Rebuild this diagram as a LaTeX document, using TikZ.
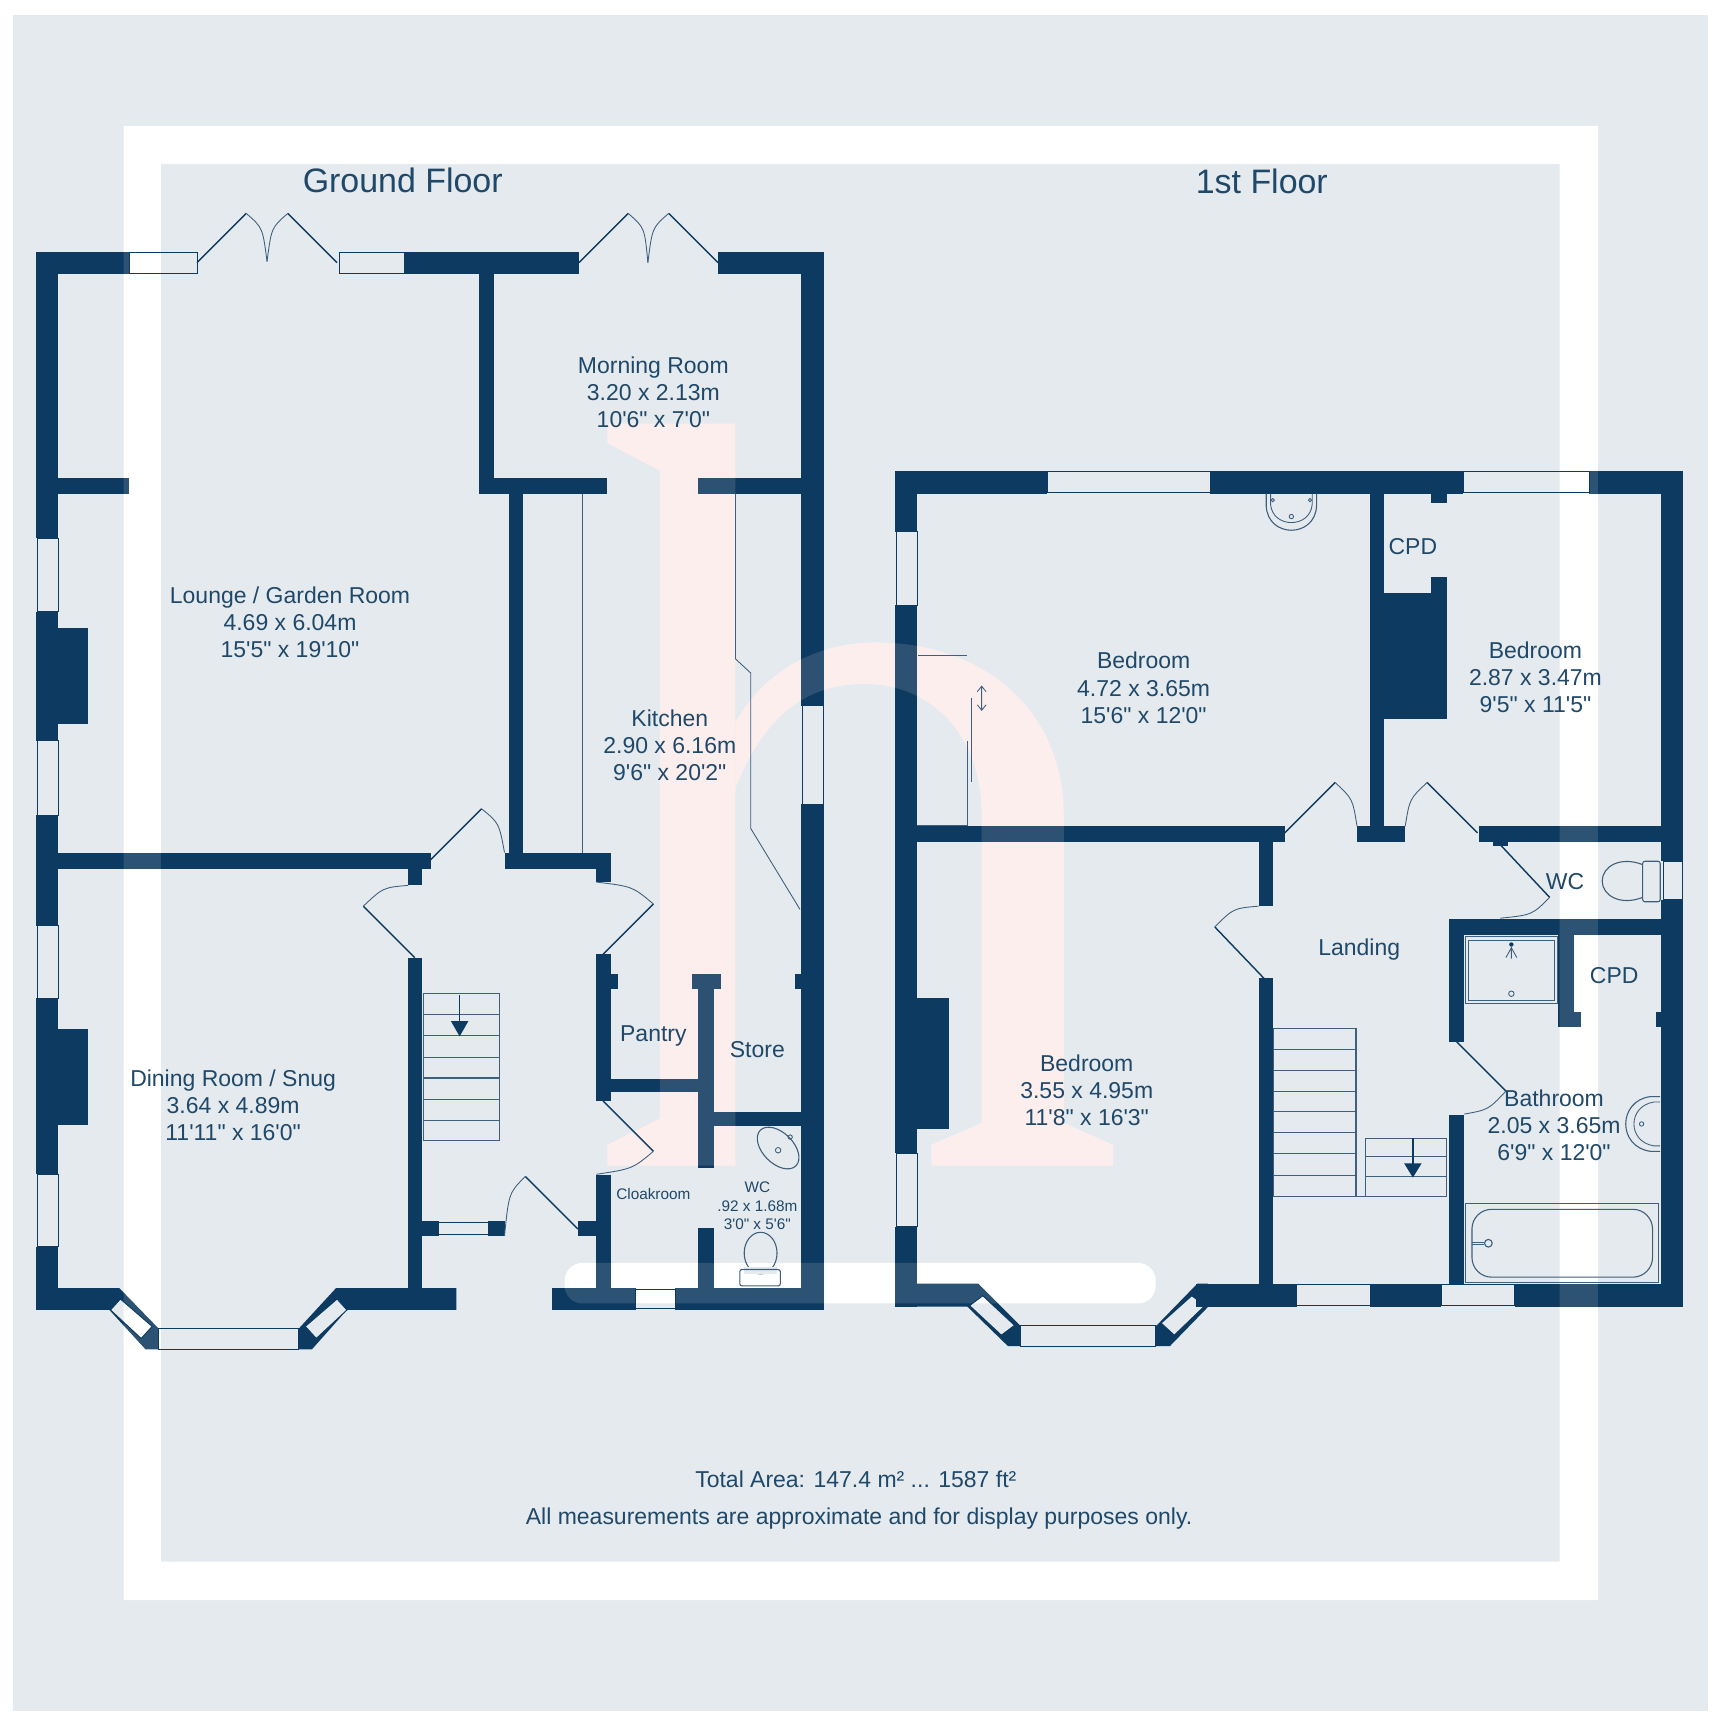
\documentclass[tikz,border=0pt]{standalone}
\usepackage{fontspec}
\usepackage{xcolor}
\usepackage{tikz}
\newfontfamily\planfont{Liberation Sans}
\definecolor{planbg}{HTML}{E4EAEE}
\definecolor{navy}{HTML}{0D3A60}
\definecolor{inkline}{HTML}{3F5F7C}
\definecolor{labelink}{HTML}{1F4869}
\definecolor{blush}{HTML}{FDEEEE}
\newcommand{\watermark}[1]{
  \fill[white,#1,even odd rule] (113,115) rectangle (1460,1462) (147,150) rectangle (1425,1427);
  \fill[white,#1,rounded corners=16pt] (516,1154) rectangle (1056,1191);
  \fill[blush,#1] (672,387) -- (555,387) -- (555,405) -- (603,430) -- (603,1022) -- (555,1046) -- (555,1065) -- (672,1065) -- cycle;
  \fill[blush,#1] (672,660) .. controls (700,610) and (750,587) .. (800,587) .. controls (900,587) and (972,650) .. (972,745)
    -- (972,1026) -- (1017,1046) -- (1017,1065) -- (851,1065) -- (851,1046) -- (897,1026) -- (897,745)
    .. controls (897,670) and (850,625) .. (790,625) .. controls (740,625) and (700,650) .. (672,720) -- cycle;
}

\begin{document}
\begin{tikzpicture}[x=1pt,y=-1pt,
  wall/.style={fill=navy},
  glazing/.style={draw=navy,line width=0.8pt},
  leaf/.style={draw=navy,line width=1.3pt},
  swing/.style={draw=inkline,line width=0.8pt},
  fitting/.style={draw=inkline,line width=1pt},
  tread/.style={draw=inkline,line width=1pt},
  label/.style={text=labelink,align=center,inner sep=0pt,font=\fontsize{21}{24.8}\selectfont\planfont},
  small/.style={label,font=\fontsize{14}{17}\selectfont\planfont},
  title/.style={label,font=\fontsize{31}{36}\selectfont\planfont}]
  \useasboundingbox (0,0) rectangle (1567,1568);
  \fill[white] (0,0) rectangle (1567,1568);
  \fill[planbg] (12,14) rectangle (1561,1563);
  \watermark{}

  % ground floor walls
  \foreach \xa/\ya/\xb/\yb in {33/230/118/250,370/230/529/250,656/230/753/250,
    33/230/53/492,33/559/53/677,33/745/53/846,33/912/53/1073,33/1139/53/1197,
    33/574/80/662,33/940/80/1028,53/437/118/451,438/250/451/451,438/437/555/451,638/437/732/451,
    465/451/478/794,53/779/394/794,373/794/386/809,461/779/558/794,545/794/558/806,
    732/230/753/645,732/735/753/1197,373/875/386/1177,545/872/558/1006,558/890/565/904,
    545/1074/558/1177,528/1116/545/1129,386/1116/401/1129,446/1116/461/1129,
    558/986/638/998,638/890/652/1067,632/890/659/904,652/1016/732/1029,726/890/732/904,
    638/1122/652/1177,504/1177/581/1197,617/1177/753/1197}
    \fill[wall] (\xa,\ya) rectangle (\xb,\yb);
  \fill[wall,even odd rule] (33,1177) -- (109,1177) -- (145,1214) -- (273,1214) -- (307,1177) -- (417,1177) -- (417,1197)
    -- (317,1197) -- (285,1233) -- (133,1233) -- (100,1197) -- (33,1197) -- cycle
    (101,1197) -- (110,1187) -- (139,1212) -- (129,1223) -- cycle
    (317,1197) -- (308,1187) -- (279,1212) -- (289,1223) -- cycle
    (145,1214) rectangle (273,1233);

  % first floor walls
  \foreach \xa/\ya/\xb/\yb in {818/430/957/451,1106/430/1337/451,1452/430/1538/451,
    818/430/838/486,818/553/838/1054,818/1121/838/1194,818/912/867/1032,
    1518/430/1538/787,1518/822/1538/1194,1252/451/1265/769,
    838/755/1174/769,1240/755/1284/769,1351/755/1518/769,
    1265/542/1322/657,1308/527/1322/542,1308/451/1322/460,
    1150/769/1163/828,1150/894/1163/1173,1364/769/1378/773,
    1324/840/1518/854,1324/854/1338/952,1324/1019/1338/1173,
    1424/854/1438/938,1424/925/1445/938,1513/925/1518/938,
    1093/1173/1185/1194,1252/1173/1317/1194,1384/1173/1538/1194}
    \fill[wall] (\xa,\ya) rectangle (\xb,\yb);
  \fill[wall,even odd rule] (818,1173) -- (894,1173) -- (932,1211) -- (1057,1211) -- (1094,1173) -- (1104,1173) -- (1104,1194)
    -- (1069,1230) -- (921,1230) -- (884,1194) -- (818,1194) -- cycle
    (886,1193) -- (898,1184) -- (927,1211) -- (915,1220) -- cycle
    (1101,1193) -- (1089,1184) -- (1061,1209) -- (1073,1220) -- cycle
    (932,1211) rectangle (1056,1230);

  \watermark{opacity=.13}

  % windows
  \foreach \xa/\ya/\xb/\yb in {118/231/180/250,310/231/370/250,34/492/53/559,34/677/53/745,34/846/53/912,34/1073/53/1139,
    733/645/752/735,401/1117/446/1128,581/1178/617/1196,957/431/1106/450,1337/431/1452/450,819/486/838/553,819/1054/838/1121,
    1520/787/1537/822,1185/1174/1252/1193,1317/1174/1384/1193,145/1214/273/1233,932/1211/1056/1230}
    \draw[glazing] (\xa,\ya) rectangle (\xb,\yb);
  \draw[glazing] (101,1197) -- (110,1187) -- (139,1212) -- (129,1223) -- cycle;
  \draw[glazing] (317,1197) -- (308,1187) -- (279,1212) -- (289,1223) -- cycle;
  \draw[glazing] (886,1193) -- (898,1184) -- (927,1211) -- (915,1220) -- cycle;
  \draw[glazing] (1101,1193) -- (1089,1184) -- (1061,1209) -- (1073,1220) -- cycle;

  % doors
  \draw[leaf] (180,240) -- (225,195);
  \draw[swing] (225,195) .. controls (240,208) .. (244,239);
  \draw[leaf] (308,240) -- (263,195);
  \draw[swing] (263,195) .. controls (248,208) .. (244,239);
  \draw[leaf] (529,240) -- (574,195);
  \draw[swing] (574,195) .. controls (589,208) .. (592,240);
  \draw[leaf] (656,240) -- (611,195);
  \draw[swing] (611,195) .. controls (596,208) .. (592,240);
  \draw[leaf] (393,786) -- (440,739);
  \draw[swing] (440,739) .. controls (456,752) .. (461,779);
  \draw[leaf] (379,875) -- (332,828);
  \draw[swing] (332,828) .. controls (350,811) .. (373,809);
  \draw[leaf] (551,872) -- (597,826);
  \draw[swing] (597,826) .. controls (578,810) .. (545,806);
  \draw[leaf] (551,1006) -- (597,1052);
  \draw[swing] (597,1052) .. controls (578,1068) .. (545,1073);
  \draw[leaf] (528,1123) -- (480,1075);
  \draw[swing] (480,1075) .. controls (465,1090) .. (461,1129);
  \draw[leaf] (1174,761) -- (1220,715);
  \draw[swing] (1220,715) .. controls (1236,730) .. (1240,755);
  \draw[leaf] (1350,761) -- (1304,715);
  \draw[swing] (1304,715) .. controls (1288,730) .. (1284,755);
  \draw[leaf] (1371,772) -- (1416,820);
  \draw[swing] (1416,820) .. controls (1400,836) .. (1371,839);
  \draw[leaf] (1155,894) -- (1110,847);
  \draw[swing] (1110,847) .. controls (1127,830) .. (1150,828);
  \draw[leaf] (1331,952) -- (1376,997);
  \draw[swing] (1376,997) .. controls (1360,1014) .. (1338,1018);

  % stairs
  \draw[tread] (387,908) rectangle (456,1042);
  \foreach \y in {927,946,966,985,1005,1024}
    \draw[tread] (387,\y) -- (456,\y);
  \draw[leaf] (420,909) -- (420,935);
  \fill[navy] (412,933) -- (428,933) -- (420,947) -- cycle;
  \draw[tread] (1164,940) rectangle (1239,1093);
  \foreach \y in {959,978,997,1016,1035,1054,1074}
    \draw[tread] (1164,\y) -- (1239,\y);
  \draw[tread] (1248,1040) rectangle (1322,1093);
  \foreach \y in {1057,1075}
    \draw[tread] (1248,\y) -- (1322,\y);
  \draw[tread] (1239,1093) -- (1248,1093);
  \draw[leaf] (1291,1040) -- (1291,1065);
  \fill[navy] (1283,1063) -- (1299,1063) -- (1291,1076) -- cycle;

  % kitchen and wardrobe lines
  \draw[swing] (532,451) -- (532,779);
  \draw[swing] (672,451) -- (672,602) -- (686,615) -- (686,757) -- (731,831);
  \draw[fitting] (839,599) -- (884,599);
  \draw[swing] (884,677) -- (884,754) -- (838,754);
  \draw[swing] (888,638) -- (888,715);
  \draw[swing] (893,632) -- (897,627) -- (901,632) (897,627) -- (897,649) (893,644) -- (897,649) -- (901,644);

  % sanitary ware
  \draw[fitting,rotate around={-45:(711,1049)}] (711,1049) ellipse (23 and 14);
  \draw[swing] (711,1051) circle (2.5);
  \draw[swing] (722,1039) circle (2);
  \draw[fitting] (695,1145) ellipse (15 and 19);
  \fill[planbg] (680,1158) rectangle (710,1164);
  \draw[fitting,rounded corners=2pt] (676,1160) rectangle (713,1175);
  \draw[fitting] (1157,451) -- (1157,462) .. controls (1158,492) and (1202,492) .. (1203,462) -- (1203,451);
  \draw[swing] (1161,451) -- (1161,461) .. controls (1163,483) and (1197,483) .. (1199,461) -- (1199,451);
  \draw[swing] (1180,472) circle (2);
  \draw[swing] (1163,457) circle (1.5);
  \draw[swing] (1197,457) circle (1.5);
  \draw[fitting] (1517,1002) -- (1508,1002) .. controls (1478,1006) and (1478,1048) .. (1508,1052) -- (1517,1052);
  \draw[swing] (1517,1007) -- (1511,1007) .. controls (1487,1011) and (1487,1043) .. (1511,1047) -- (1517,1047);
  \draw[swing] (1500,1027) circle (2);
  \draw[fitting] (1501,790) .. controls (1480,782) and (1464,792) .. (1464,805) .. controls (1464,818) and (1480,828) .. (1501,820);
  \draw[fitting,rounded corners=2pt] (1501,787) rectangle (1517,824);
  \draw[swing] (1339,1100) rectangle (1515,1172);
  \draw[fitting,rounded corners=18pt] (1345,1105) rectangle (1510,1167);
  \draw[fitting] (1360,1136) circle (3.5);
  \draw[swing] (1345,1135) -- (1356,1135) (1345,1137) -- (1356,1137);
  \draw[swing] (1339,856) rectangle (1423,917);
  \draw[swing] (1342,859) rectangle (1420,914);
  \fill[navy] (1381,863) circle (2);
  \draw[swing] (1381,865) -- (1381,876) (1381,866) -- (1376,875) (1381,866) -- (1386,875);
  \draw[swing] (1381,908) circle (2.5);

  % labels
  \node[title] (groundtitle) at (368,165) {Ground Floor};
  \node[title] (firsttitle) at (1153,166) {1st Floor};
  \node[label] (morningroom) at (597,358.5) {Morning Room\\3.20 x 2.13m\\10'6" x 7'0"};
  \node[label] (lounge) at (265,568.5) {Lounge / Garden Room\\4.69 x 6.04m\\15'5" x 19'10"};
  \node[label] (kitchen) at (612,681) {Kitchen\\2.90 x 6.16m\\9'6" x 20'2"};
  \node[label] (dining) at (213,1010) {Dining Room / Snug\\3.64 x 4.89m\\11'11" x 16'0"};
  \node[label] (pantry) at (597,947) {Pantry};
  \node[label] (store) at (692,959) {Store};
  \node[small] (cloakroom) at (597,1091) {Cloakroom};
  \node[small] (wcground) at (692,1102) {WC\\.92 x 1.68m\\3'0" x 5'6"};
  \node[label] (bedroomfront) at (1045,628.5) {Bedroom\\4.72 x 3.65m\\15'6" x 12'0"};
  \node[label] (bedroomback) at (1403,619) {Bedroom\\2.87 x 3.47m\\9'5" x 11'5"};
  \node[label] (bedroomlarge) at (993,996) {Bedroom\\3.55 x 4.95m\\11'8" x 16'3"};
  \node[label] (cpdone) at (1291,499) {CPD};
  \node[label] (cpdtwo) at (1475,891) {CPD};
  \node[label] (landing) at (1242,868) {Landing};
  \node[label] (wcfirst) at (1430,806) {WC};
  \node[label] (bathroom) at (1420,1028) {Bathroom\\2.05 x 3.65m\\6'9" x 12'0"};
  \node[label] (totalarea) at (782,1352) {Total Area: 147.4 m² ... 1587 ft²};
  \node[label] (disclaimer) at (785,1388) {All measurements are approximate and for display purposes only.};
\end{tikzpicture}
\end{document}
